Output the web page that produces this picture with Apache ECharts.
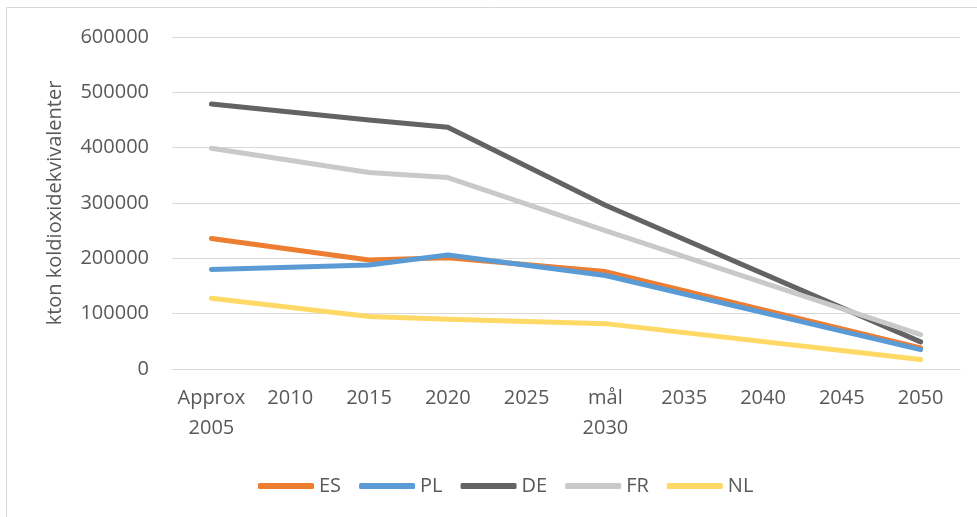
<!DOCTYPE html>
<html>
<head>
<meta charset="utf-8">
<script src="https://cdn.jsdelivr.net/npm/echarts@6/dist/echarts.min.js"></script>
<style>
html,body{margin:0;padding:0;background:#fff;}
#c{width:977px;height:517px;}
</style>
</head>
<body>
<div id="c"></div>
<script>
const categories = ["Approx\n2005", "2010", "2015", "2020", "2025", "mål\n2030", "2035", "2040", "2045", "2050"];
const ES = [236000, null, 197000, 201000, null, 176000, null, null, null, 38000];
const PL = [180000, null, 188000, 206000, null, 169000, null, null, null, 35000];
const DE = [479000, null, 450000, 437000, null, 296000, null, null, null, 49000];
const FR = [399000, null, 355000, 346000, null, 250000, null, null, null, 62000];
const NL = [128000, null, 95000, 90000, null, 82000, null, null, null, 17000];
const yTicks = { min: 0, max: 600000, interval: 100000 };
const seriesNames = ["ES", "PL", "DE", "FR", "NL"];
const seriesData = [ES, PL, DE, FR, NL];
const colors = ["#ED7D31", "#5B9BD5", "#636363", "#C9C9C9", "#FFD966"];

const font = "'Open Sans', 'Liberation Sans', sans-serif";
const chart = echarts.init(document.getElementById('c'), null, { renderer: 'canvas' });
chart.setOption({
  animation: false,
  backgroundColor: '#ffffff',
  color: colors,
  graphic: [{
    type: 'rect', shape: { x: 6.5, y: 7.5, width: 990, height: 530 },
    style: { fill: 'none', stroke: '#d9d9d9', lineWidth: 1 }, silent: true, z: -10
  }],
  grid: { left: 172, right: 17, top: 37, bottom: 148 },
  legend: {
    left: 253, top: 471,
    icon: 'roundRect', itemWidth: 56, itemHeight: 6, itemGap: 18,
    textStyle: { color: '#595959', fontSize: 20, fontFamily: font },
    data: seriesNames
  },
  xAxis: {
    type: 'category', data: categories, boundaryGap: true,
    axisLine: { lineStyle: { color: '#d9d9d9', width: 1 } },
    axisTick: { show: false },
    axisLabel: { color: '#595959', fontSize: 20, fontFamily: font, lineHeight: 30, margin: 14, interval: 0 }
  },
  yAxis: {
    type: 'value', min: yTicks.min, max: yTicks.max, interval: yTicks.interval,
    name: 'kton koldioxidekvivalenter', nameLocation: 'middle', nameGap: 107,
    nameTextStyle: { color: '#595959', fontSize: 20, fontFamily: font },
    axisLine: { show: false }, axisTick: { show: false },
    axisLabel: { color: '#595959', fontSize: 20, fontFamily: font, margin: 23, formatter: v => String(v) },
    splitLine: { lineStyle: { color: '#d9d9d9', width: 1 } }
  },
  series: seriesNames.map((n, i) => ({
    name: n, type: 'line', data: seriesData[i], connectNulls: true,
    symbol: 'none', smooth: false,
    lineStyle: { width: 5, color: colors[i], cap: 'round', join: 'round' },
    itemStyle: { color: colors[i] }
  }))
});
</script>
</body>
</html>
